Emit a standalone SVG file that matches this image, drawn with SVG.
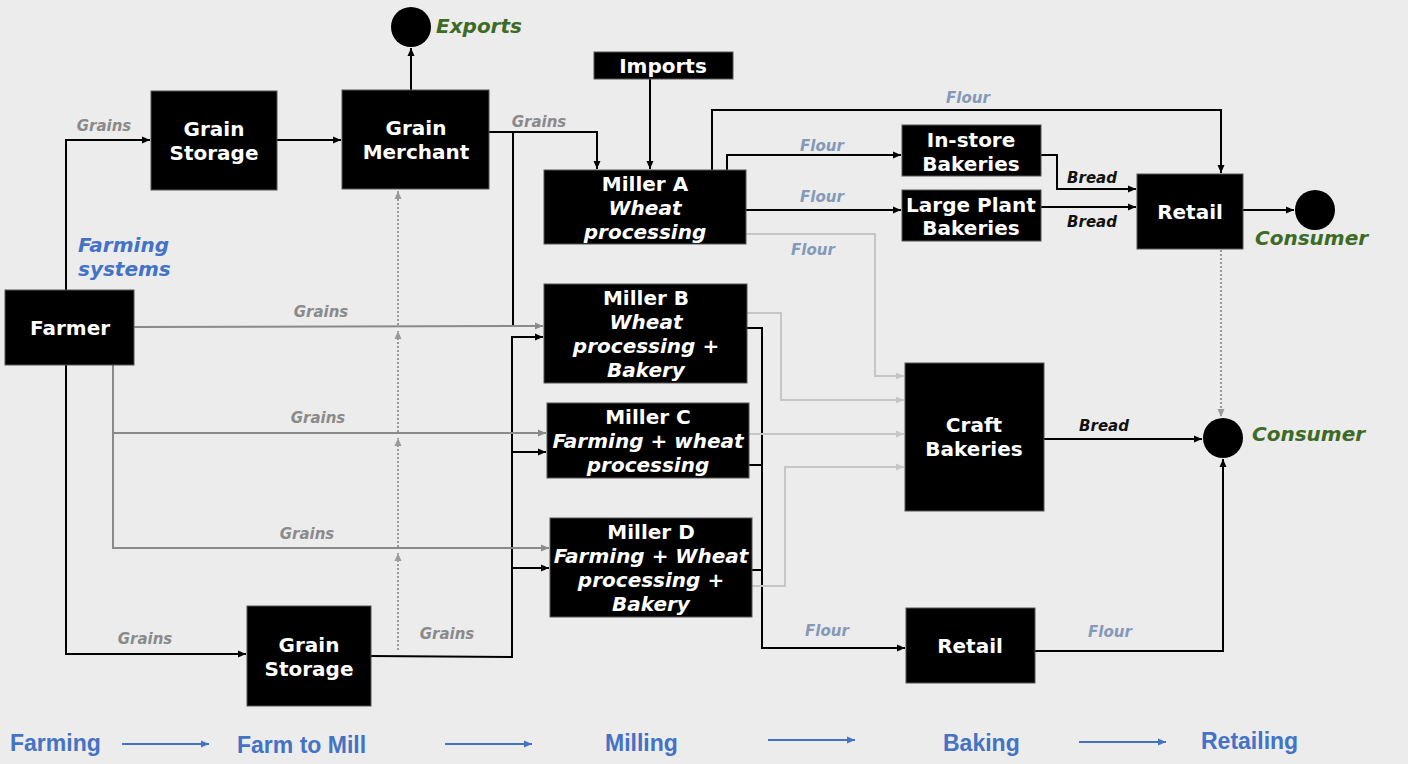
<svg xmlns="http://www.w3.org/2000/svg" width="1408" height="764" viewBox="0 0 1408 764">
<defs>
<marker id="aK" markerUnits="userSpaceOnUse" markerWidth="8" markerHeight="8" refX="8" refY="4" orient="auto"><path d="M0,0.5 L8,4 L0,7.5 z" fill="#000"/></marker>
<marker id="aG" markerUnits="userSpaceOnUse" markerWidth="8" markerHeight="8" refX="8" refY="4" orient="auto"><path d="M0,0.5 L8,4 L0,7.5 z" fill="#8a8a8a"/></marker>
<marker id="aL" markerUnits="userSpaceOnUse" markerWidth="8" markerHeight="8" refX="8" refY="4" orient="auto"><path d="M0,0.5 L8,4 L0,7.5 z" fill="#c6c6c6"/></marker>
<marker id="aD" markerUnits="userSpaceOnUse" markerWidth="8" markerHeight="8" refX="8" refY="4" orient="auto"><path d="M0,0.5 L8,4 L0,7.5 z" fill="#9a9a9a"/></marker>
<marker id="aB" markerUnits="userSpaceOnUse" markerWidth="8" markerHeight="8" refX="8" refY="4" orient="auto"><path d="M0,0.5 L8,4 L0,7.5 z" fill="#4472c4"/></marker>
</defs>
<style>
.bg{fill:#ececec}
.box{fill:#000;stroke:#555;stroke-width:1}
.nt{font-family:"DejaVu Sans",Verdana,sans-serif;font-weight:bold;font-size:20px;fill:#fff;text-anchor:middle}
.it{font-style:italic}
.k{fill:none;stroke:#000;stroke-width:2}
.g{fill:none;stroke:#8a8a8a;stroke-width:2}
.l{fill:none;stroke:#c6c6c6;stroke-width:2}
.d{fill:none;stroke:#9a9a9a;stroke-width:2;stroke-dasharray:2,2}
.bl{fill:none;stroke:#4472c4;stroke-width:2}
.lab{font-family:"DejaVu Sans",Verdana,sans-serif;font-weight:bold;font-style:italic;font-size:15px}
.gr{fill:#8a8a8a}
.fl{fill:#8499b9}
.br{fill:#111}
.grn{font-family:"DejaVu Sans",Verdana,sans-serif;font-weight:bold;font-style:italic;font-size:20px;fill:#3d6b25}
.blu{font-family:"DejaVu Sans",Verdana,sans-serif;font-weight:bold;font-style:italic;font-size:20px;fill:#4472c4}
.stage{font-family:"Liberation Sans",Arial,sans-serif;font-weight:bold;font-size:23px;fill:#4472c4}
</style>
<rect class="bg" x="0" y="0" width="1408" height="764"/>

<g id="connectors">
<path class="k" d="M66,290 V140 H150" marker-end="url(#aK)"/>
<path class="k" d="M277,140 H341" marker-end="url(#aK)"/>
<path class="k" d="M411,90 V48" marker-end="url(#aK)"/>
<path class="k" d="M489,132 H597 V169" marker-end="url(#aK)"/>
<path class="k" d="M513,132 V326"/>
<path class="k" d="M650,79 V169" marker-end="url(#aK)"/>
<path class="k" d="M712,170 V110 H1221 V173" marker-end="url(#aK)"/>
<path class="k" d="M727,170 V155 H901" marker-end="url(#aK)"/>
<path class="k" d="M746,210 H901" marker-end="url(#aK)"/>
<path class="k" d="M1041,155 H1057 V189 H1136" marker-end="url(#aK)"/>
<path class="k" d="M1041,207 H1136" marker-end="url(#aK)"/>
<path class="k" d="M1243,210 H1294" marker-end="url(#aK)"/>
<path class="k" d="M66,365 V654 H246" marker-end="url(#aK)"/>
<path class="k" d="M371,656 L512,657 V337 H543" marker-end="url(#aK)"/>
<path class="k" d="M512,452 H546" marker-end="url(#aK)"/>
<path class="k" d="M512,568 H549" marker-end="url(#aK)"/>
<path class="k" d="M747,328 H762 V648 H905" marker-end="url(#aK)"/>
<path class="k" d="M749,465 H762"/>
<path class="k" d="M752,570 H762"/>
<path class="k" d="M1044,439 H1202" marker-end="url(#aK)"/>
<path class="k" d="M1035,651 H1223 V459" marker-end="url(#aK)"/>
<path class="g" d="M134,327 L543,326" marker-end="url(#aG)"/>
<path class="g" d="M113,365 V548 H549" marker-end="url(#aG)"/>
<path class="g" d="M113,433 H546" marker-end="url(#aG)"/>
<path class="l" d="M746,234 H875 V376 H904" marker-end="url(#aL)"/>
<path class="l" d="M747,313 H781 V400 H904" marker-end="url(#aL)"/>
<path class="l" d="M749,434 H904" marker-end="url(#aL)"/>
<path class="l" d="M752,586 H785 V467 H904" marker-end="url(#aL)"/>
<path class="d" d="M398,650 V553" marker-end="url(#aD)"/>
<path class="d" d="M398,547 V438" marker-end="url(#aD)"/>
<path class="d" d="M398,432 V331" marker-end="url(#aD)"/>
<path class="d" d="M398,325 V191" marker-end="url(#aD)"/>
<path class="d" d="M1221,250 V417" marker-end="url(#aD)"/>
<path class="bl" d="M122,744 H209" marker-end="url(#aB)"/>
<path class="bl" d="M445,744 H532" marker-end="url(#aB)"/>
<path class="bl" d="M768,740 H855" marker-end="url(#aB)"/>
<path class="bl" d="M1079,742 H1166" marker-end="url(#aB)"/>
<text class="lab gr" x="104" y="131" text-anchor="middle">Grains</text>
<text class="lab gr" x="539" y="127" text-anchor="middle">Grains</text>
<text class="lab gr" x="321" y="317" text-anchor="middle">Grains</text>
<text class="lab gr" x="318" y="423" text-anchor="middle">Grains</text>
<text class="lab gr" x="307" y="539" text-anchor="middle">Grains</text>
<text class="lab gr" x="145" y="644" text-anchor="middle">Grains</text>
<text class="lab gr" x="447" y="639" text-anchor="middle">Grains</text>
<text class="lab fl" x="968" y="103" text-anchor="middle">Flour</text>
<text class="lab fl" x="822" y="151" text-anchor="middle">Flour</text>
<text class="lab fl" x="822" y="202" text-anchor="middle">Flour</text>
<text class="lab fl" x="813" y="255" text-anchor="middle">Flour</text>
<text class="lab fl" x="827" y="636" text-anchor="middle">Flour</text>
<text class="lab fl" x="1110" y="637" text-anchor="middle">Flour</text>
<text class="lab br" x="1092" y="183" text-anchor="middle">Bread</text>
<text class="lab br" x="1092" y="227" text-anchor="middle">Bread</text>
<text class="lab br" x="1104" y="431" text-anchor="middle">Bread</text>
</g>

<g id="farmer"><rect class="box" x="5" y="290" width="129" height="75"/><text class="nt" x="70" y="335">Farmer</text></g>
<g id="grain-storage-top"><rect class="box" x="151" y="91" width="126" height="99"/><text class="nt" x="214" y="136">Grain</text><text class="nt" x="214" y="160">Storage</text></g>
<g id="grain-merchant"><rect class="box" x="342" y="90" width="147" height="99"/><text class="nt" x="416" y="135">Grain</text><text class="nt" x="416" y="159">Merchant</text></g>
<g id="exports"><circle cx="411" cy="27" r="20" fill="#000"/><text class="grn" x="436" y="33">Exports</text></g>
<g id="imports"><rect class="box" x="594" y="52" width="139" height="27"/><text class="nt" x="663" y="73">Imports</text></g>
<g id="miller-a"><rect class="box" x="544" y="170" width="202" height="74"/><text class="nt" x="645" y="191">Miller A</text><text class="nt it" x="645" y="215">Wheat</text><text class="nt it" x="645" y="239">processing</text></g>
<g id="instore"><rect class="box" x="902" y="125" width="139" height="51"/><text class="nt" x="971" y="147">In-store</text><text class="nt" x="971" y="171">Bakeries</text></g>
<g id="largeplant"><rect class="box" x="902" y="190" width="139" height="51"/><text class="nt" x="971" y="212">Large Plant</text><text class="nt" x="971" y="235">Bakeries</text></g>
<g id="retail-top"><rect class="box" x="1137" y="174" width="106" height="75"/><text class="nt" x="1190" y="219">Retail</text></g>
<g id="consumer-top"><circle cx="1315" cy="210" r="20" fill="#000"/><text class="grn" x="1255" y="245">Consumer</text></g>
<g id="farming-systems"><text class="blu" x="78" y="252">Farming</text><text class="blu" x="78" y="276">systems</text></g>
<g id="miller-b"><rect class="box" x="544" y="284" width="203" height="99"/><text class="nt" x="646" y="305">Miller B</text><text class="nt it" x="646" y="329">Wheat</text><text class="nt it" x="646" y="353">processing +</text><text class="nt it" x="646" y="377">Bakery</text></g>
<g id="miller-c"><rect class="box" x="547" y="403" width="202" height="75"/><text class="nt" x="648" y="424">Miller C</text><text class="nt it" x="648" y="448">Farming + wheat</text><text class="nt it" x="648" y="472">processing</text></g>
<g id="miller-d"><rect class="box" x="550" y="518" width="202" height="99"/><text class="nt" x="651" y="539">Miller D</text><text class="nt it" x="651" y="563">Farming + Wheat</text><text class="nt it" x="651" y="587">processing +</text><text class="nt it" x="651" y="611">Bakery</text></g>
<g id="craft"><rect class="box" x="905" y="363" width="139" height="148"/><text class="nt" x="974" y="432">Craft</text><text class="nt" x="974" y="456">Bakeries</text></g>
<g id="consumer-bottom"><circle cx="1223" cy="438" r="20" fill="#000"/><text class="grn" x="1252" y="441">Consumer</text></g>
<g id="grain-storage-bottom"><rect class="box" x="247" y="606" width="124" height="100"/><text class="nt" x="309" y="652">Grain</text><text class="nt" x="309" y="676">Storage</text></g>
<g id="retail-bottom"><rect class="box" x="906" y="608" width="129" height="75"/><text class="nt" x="970" y="653">Retail</text></g>

<g id="stages">
<text class="stage" x="10" y="751">Farming</text>
<text class="stage" x="237" y="753">Farm to Mill</text>
<text class="stage" x="605" y="751">Milling</text>
<text class="stage" x="943" y="751">Baking</text>
<text class="stage" x="1201" y="749">Retailing</text>
</g>
</svg>
